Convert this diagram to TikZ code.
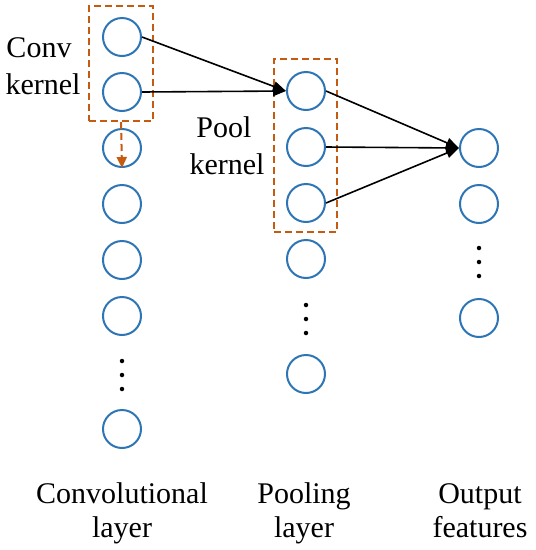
\documentclass[tikz,border=0pt]{standalone}
\usepackage{fontspec}
\setmainfont{Liberation Serif}
\usetikzlibrary{arrows.meta}
\definecolor{nodeblue}{RGB}{46,117,182}
\definecolor{kernorange}{RGB}{197,90,17}
\begin{document}
\begin{tikzpicture}[x=1pt,y=-1pt,
  neuron/.style={circle,draw=nodeblue,line width=2pt,minimum size=38pt,inner sep=0pt},
  lbl/.style={font=\fontsize{30}{36}\selectfont,anchor=base,inner sep=0pt},
  kbox/.style={draw=kernorange,line width=2pt,dash pattern=on 7pt off 4pt,inner sep=0pt},
  karrow/.style={draw=kernorange,line width=2pt,dash pattern=on 7pt off 4pt,-{Triangle[length=11pt,width=10pt]}},
  conn/.style={line width=1.6pt,-{Triangle[length=13pt,width=10pt]}},
  dotc/.style={circle,fill=black,inner sep=0pt,minimum size=4.5pt}]
\useasboundingbox (0,0) rectangle (536,550);
% convolutional layer
\node[neuron] (c1) at (122,37) {};
\node[neuron] (c2) at (122,92) {};
\node[neuron] (c3) at (122,148) {};
\node[neuron] (c4) at (122,204) {};
\node[neuron] (c5) at (122,260) {};
\node[neuron] (c6) at (122,316) {};
\node[dotc] (cd1) at (122,361) {};
\node[dotc] (cd2) at (122,375) {};
\node[dotc] (cd3) at (122,389) {};
\node[neuron] (c7) at (122,429) {};
% pooling layer
\node[neuron] (p1) at (306,91) {};
\node[neuron] (p2) at (306,147) {};
\node[neuron] (p3) at (306,203) {};
\node[neuron] (p4) at (306,259) {};
\node[dotc] (pd1) at (306,305) {};
\node[dotc] (pd2) at (306,319) {};
\node[dotc] (pd3) at (306,333) {};
\node[neuron] (p5) at (306,374) {};
% output features
\node[neuron] (o1) at (479,148) {};
\node[neuron] (o2) at (479,204) {};
\node[dotc] (od1) at (479,248) {};
\node[dotc] (od2) at (479,262) {};
\node[dotc] (od3) at (479,276) {};
\node[neuron] (o3) at (479,318) {};
% kernels
\node[kbox,minimum width=64pt,minimum height=115pt] (convbox) at (121,63.5) {};
\node[kbox,minimum width=63pt,minimum height=173pt] (poolbox) at (305.5,145.5) {};
\draw[karrow] (convbox.south) -- (c3.south);
% connections
\draw[conn] (c1.east) -- (p1.west);
\draw[conn] (c2.east) -- (p1.west);
\draw[conn] (p1.east) -- (o1.west);
\draw[conn] (p2.east) -- (o1.west);
\draw[conn] (p3.east) -- (o1.west);
% labels
\node[lbl] (convk1) at (39,57) {Conv};
\node[lbl] (convk2) at (43,94) {kernel};
\node[lbl] (poolk1) at (224,137) {Pool};
\node[lbl] (poolk2) at (227,174) {kernel};
\node[lbl] (lay1a) at (122,503) {Convolutional};
\node[lbl] (lay1b) at (122,537) {layer};
\node[lbl] (lay2a) at (304,503) {Pooling};
\node[lbl] (lay2b) at (304,537) {layer};
\node[lbl] (lay3a) at (480,503) {Output};
\node[lbl] (lay3b) at (480,537) {features};
\end{tikzpicture}
\end{document}
